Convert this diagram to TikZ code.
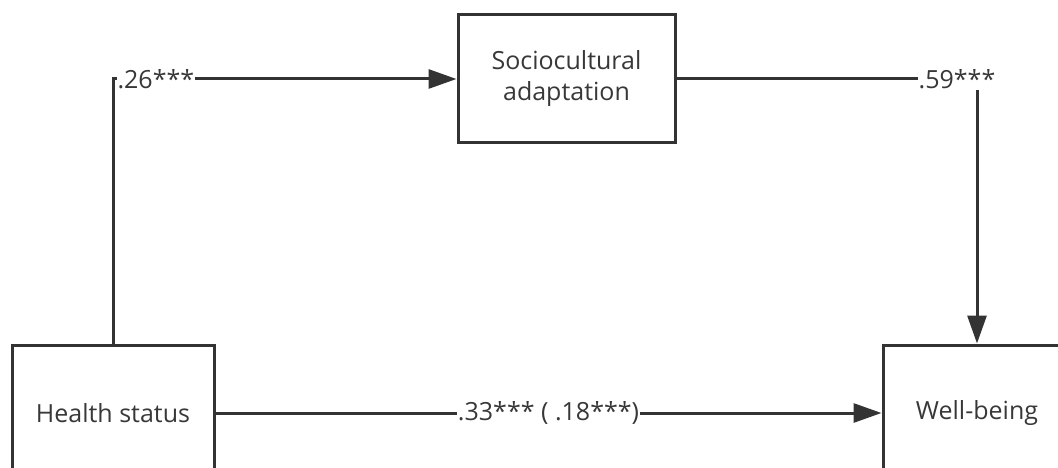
\documentclass[tikz,border=0pt]{standalone}
\usepackage{fontspec}
\setmainfont{Open Sans}
\usetikzlibrary{arrows.meta}

\definecolor{linegray}{HTML}{333333}
\definecolor{textgray}{HTML}{383838}

\begin{document}
\begin{tikzpicture}[
    x=1pt, y=-1pt,
    font=\fontsize{25}{31}\selectfont,
    box/.style={draw=linegray, line width=3pt, align=center, text=textgray, minimum height=136pt},
    lab/.style={fill=white, text=textgray, inner sep=1pt},
    arr/.style={draw=linegray, line width=3pt, -{Triangle[length=28pt, width=19pt]}}
]
\useasboundingbox (0,0) rectangle (1058,468);
\clip (0,0) rectangle (1058,468);

\node[box, minimum width=217pt, minimum height=128pt] (soc) at (566.5,79) {Sociocultural\\adaptation};
\node[box, minimum width=202pt] (health) at (113,413) {Health status};
\node[box, minimum width=188pt] (well) at (977,413) {Well-being};

\draw[arr] (health.north) |- node[lab, pos=0.5, anchor=west, xshift=2pt] {.26***} (soc.west);
\draw[arr] (soc.east) -| node[lab, pos=0.5, xshift=-20pt] {.59***} (well.north);
\draw[arr] (health.east) -- node[lab, midway] {.33*** ( .18***)} (well.west);
\end{tikzpicture}
\end{document}
